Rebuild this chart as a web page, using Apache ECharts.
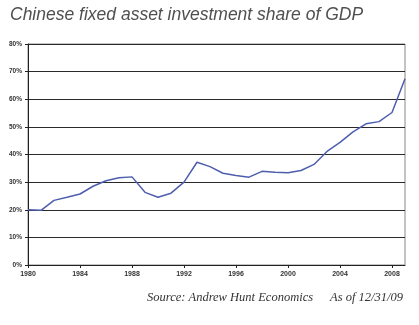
<!DOCTYPE html>
<html>
<head>
<meta charset="utf-8">
<script src="https://cdn.jsdelivr.net/npm/echarts@6/dist/echarts.min.js"></script>
<style>html,body{margin:0;padding:0;background:#fff;}#c{width:419px;height:325px;}</style>
</head>
<body>
<div id="c"></div>
<script>
const years = [1980,1981,1982,1983,1984,1985,1986,1987,1988,1989,1990,1991,1992,1993,1994,1995,1996,1997,1998,1999,2000,2001,2002,2003,2004,2005,2006,2007,2008,2009];
const sharePct = [20.0,19.8,23.4,24.5,25.7,28.5,30.5,31.6,31.9,26.3,24.5,26.0,30.0,37.2,35.6,33.2,32.4,31.8,33.9,33.6,33.4,34.2,36.4,41.1,44.4,48.2,51.1,51.9,55.2,67.4];
const titleText = 'Chinese fixed asset investment share of GDP';
const sourceText = 'Source: Andrew Hunt Economics';
const asOfText = 'As of 12/31/09';

const chart = echarts.init(document.getElementById('c'), null, {renderer: 'canvas'});
chart.setOption({
  backgroundColor: '#fff',
  animation: false,
  title: [
    {text: titleText, left: 5, top: 1, textStyle: {fontFamily: 'Liberation Sans, Arial', fontStyle: 'italic', fontWeight: 'normal', fontSize: 17.5, color: '#505050'}},
    {text: sourceText, left: 142, top: 286, textStyle: {fontFamily: 'Liberation Serif, Times New Roman', fontStyle: 'italic', fontWeight: 'normal', fontSize: 12.5, color: '#333'}},
    {text: asOfText, left: 325, top: 286, textStyle: {fontFamily: 'Liberation Serif, Times New Roman', fontStyle: 'italic', fontWeight: 'normal', fontSize: 12.5, color: '#333'}}
  ],
  grid: {left: 28, right: 14, top: 44, bottom: 60, show: true, borderColor: '#888', borderWidth: 1},
  xAxis: {
    type: 'value', min: 1980, max: 2009, interval: 4,
    axisLine: {show: true, lineStyle: {color: '#222', width: 1}},
    axisTick: {show: true, length: 3, lineStyle: {color: '#222'}},
    splitLine: {show: false},
    axisLabel: {fontSize: 7, color: '#333', fontWeight: 'bold', margin: 6, showMaxLabel: false,
      formatter: v => (v % 4 === 0 ? String(v) : '')}
  },
  yAxis: {
    type: 'value', min: 0, max: 80, interval: 10,
    axisLine: {show: true, lineStyle: {color: '#222', width: 1}},
    axisTick: {show: true, length: 3, lineStyle: {color: '#222'}},
    splitLine: {show: true, lineStyle: {color: '#2a2a2a', width: 1}},
    axisLabel: {fontSize: 6.5, color: '#333', fontWeight: 'bold', margin: 6, formatter: v => v + '%'}
  },
  series: [{
    type: 'line',
    data: years.map((y, i) => [y, sharePct[i]]),
    symbol: 'none',
    lineStyle: {color: '#4e5eae', width: 1.5},
    z: 5
  }]
});
</script>
</body>
</html>
